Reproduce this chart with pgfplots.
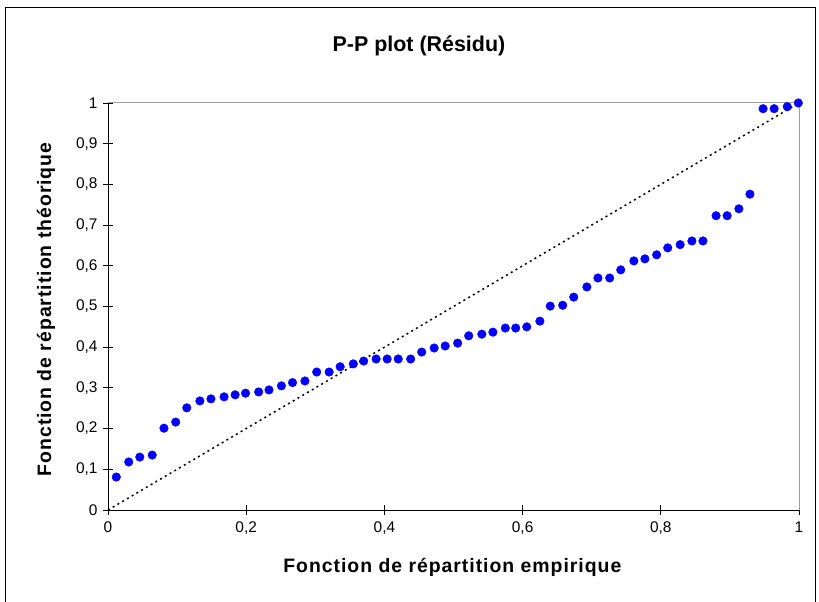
\documentclass[border=0pt]{standalone}
\usepackage{fontspec}
\setmainfont{Liberation Sans}
\usepackage{pgfplots}
\pgfplotsset{compat=1.18}

% P-P plot data: empirical vs theoretical CDF
\pgfplotstableread{
x y
0.012 0.081
0.030 0.118
0.046 0.130
0.064 0.135
0.081 0.201
0.098 0.216
0.114 0.251
0.133 0.268
0.149 0.273
0.168 0.278
0.184 0.283
0.199 0.287
0.218 0.290
0.233 0.295
0.251 0.305
0.267 0.313
0.285 0.317
0.302 0.339
0.320 0.339
0.336 0.352
0.355 0.359
0.370 0.366
0.388 0.371
0.404 0.371
0.420 0.371
0.438 0.371
0.454 0.388
0.472 0.398
0.488 0.403
0.506 0.410
0.522 0.428
0.541 0.432
0.557 0.437
0.575 0.447
0.590 0.447
0.606 0.450
0.625 0.464
0.640 0.501
0.658 0.503
0.674 0.523
0.693 0.548
0.709 0.570
0.726 0.570
0.742 0.590
0.761 0.612
0.777 0.617
0.794 0.627
0.810 0.644
0.828 0.652
0.845 0.661
0.861 0.661
0.880 0.723
0.896 0.723
0.913 0.740
0.929 0.776
0.948 0.986
0.964 0.986
0.983 0.991
0.999 1.000
}\pp

\begin{document}
\begin{tikzpicture}[x=1bp,y=1bp]
\useasboundingbox (0,0) rectangle (819,602);
\draw[black, line width=1bp] (5.5,-2) -- (5.5,594.5) -- (815.5,594.5) -- (815.5,-2);
\begin{axis}[
  at={(108bp,92bp)}, anchor=south west,
  scale only axis, width=691bp, height=407bp,
  xmin=0, xmax=1, ymin=0, ymax=1,
  axis x line*=bottom, axis y line*=left,
  axis line style={black, line width=0.9bp, -},
  xtick={0,0.2,0.4,0.6,0.8,1},
  ytick={0,0.1,0.2,0.3,0.4,0.5,0.6,0.7,0.8,0.9,1},
  tick align=center, major tick length=10bp,
  tick style={black, line width=0.8bp},
  /pgf/number format/.cd, use comma, fixed, precision=1, assume math mode=true,
  /pgfplots/.cd,
  ticklabel style={font=\fontsize{15.5}{18}\selectfont},
  xticklabel style={yshift=-3bp},
  yticklabel style={xshift=-2bp},
  title={\textbf{P-P plot (Résidu)}},
  title style={font=\fontsize{21.5}{24}\selectfont, at={(axis description cs:0.45,1.125)}, anchor=center},
  xlabel={\textbf{\addfontfeature{LetterSpace=5}Fonction de répartition empirique}},
  xlabel style={font=\fontsize{19.5}{22}\selectfont, at={(axis description cs:0.499,-0.14)}, anchor=center},
  ylabel={\textbf{\addfontfeature{LetterSpace=5}Fonction de répartition théorique}},
  ylabel style={font=\fontsize{19.5}{22}\selectfont, at={(axis description cs:-0.0897,0.494)}, anchor=center, rotate=0},
  clip=false,
]
  \draw[gray!75, line width=1bp] (rel axis cs:0,1) -- (rel axis cs:1,1) -- (rel axis cs:1,0);
  \addplot[black, line width=1.5bp, dash pattern=on 2bp off 3.5bp] coordinates {(0,0) (1,1)};
  \addplot[only marks, mark=*, mark size=4.3bp, color={rgb,255:red,0;green,0;blue,255}] table {\pp};
\end{axis}
\end{tikzpicture}
\end{document}
